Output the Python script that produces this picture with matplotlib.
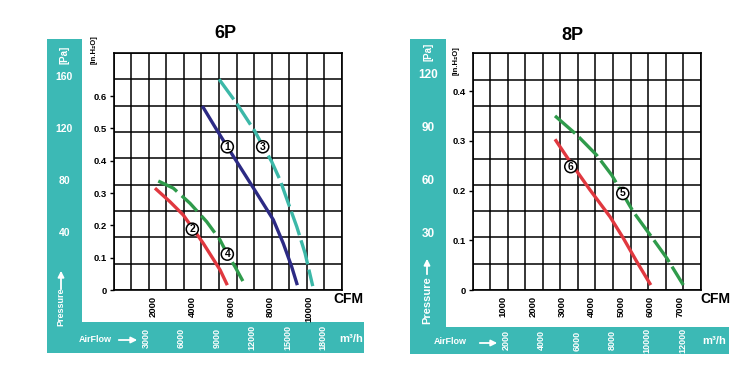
import matplotlib.pyplot as plt

plt.rcParams['font.family'] = ['Liberation Sans Narrow', 'Liberation Sans', 'DejaVu Sans']
plt.rcParams['font.weight'] = 'bold'

# ---- 6P panel data ----
cfm_6p_1 = [4530, 5270, 5810, 6460, 7320, 8170, 8680, 9110, 9400]
p_6p_1 = [0.569, 0.495, 0.443, 0.381, 0.299, 0.217, 0.144, 0.072, 0.015]
cfm_6p_2 = [2100, 2870, 3550, 4070, 4580, 5010, 5440, 5810]
p_6p_2 = [0.315, 0.273, 0.232, 0.188, 0.144, 0.103, 0.062, 0.015]
cfm_6p_3 = [5385, 6290, 7230, 7655, 8085, 8515, 8940, 9370, 9795, 10190]
p_6p_3 = [0.652, 0.577, 0.490, 0.443, 0.397, 0.340, 0.268, 0.196, 0.114, 0.012]
cfm_6p_4 = [2270, 3040, 3900, 4755, 5435, 5810, 6205, 6720]
p_6p_4 = [0.337, 0.315, 0.268, 0.211, 0.155, 0.111, 0.072, 0.015]
lab_6p_x = [5810, 4015, 7625, 5810]
lab_6p_y = [0.443, 0.188, 0.443, 0.111]
lab_6p = ['1', '2', '3', '4']
cfm_ticks_6p = [2000, 4000, 6000, 8000, 10000]
inh2o_ticks_6p = [0, 0.1, 0.2, 0.3, 0.4, 0.5, 0.6]
pa_ticks_6p = [40, 80, 120, 160]
m3h_ticks_6p = [3000, 6000, 9000, 12000, 15000, 18000]

# ---- 8P panel data ----
cfm_8p_5 = [2755, 3490, 4170, 4680, 5415, 5980, 6550, 7110]
p_8p_5 = [0.350, 0.312, 0.271, 0.231, 0.157, 0.111, 0.064, 0.010]
cfm_8p_6 = [2755, 3265, 3945, 4625, 5075, 5530, 6005]
p_8p_6 = [0.303, 0.258, 0.201, 0.147, 0.104, 0.057, 0.010]
lab_8p_x = [5055, 3290]
lab_8p_y = [0.194, 0.248]
lab_8p = ['5', '6']
cfm_ticks_8p = [1000, 2000, 3000, 4000, 5000, 6000, 7000]
inh2o_ticks_8p = [0, 0.1, 0.2, 0.3, 0.4]
pa_ticks_8p = [30, 60, 90, 120]
m3h_ticks_8p = [2000, 4000, 6000, 8000, 10000, 12000]

TEAL = '#3cb9b5'
NAVY = '#2c2a84'
RED = '#e0383f'
GREEN = '#2f9b4b'
CYAN = '#3cb8a8'

W, H = 744, 371
fig = plt.figure(figsize=(W / 100, H / 100), dpi=100)


def rect(x0, y0, x1, y1):
    return [x0 / W, 1 - y1 / H, (x1 - x0) / W, (y1 - y0) / H]


def bare(a):
    a.set_xticks([])
    a.set_yticks([])
    for s in a.spines.values():
        s.set_visible(False)


def draw_panel(vband, hband, plot, xlim, ylim, pa_lim, m3h_lim,
               xt, yt, pat, mt, pa_fs):
    vb = fig.add_axes(rect(*vband))
    vb.set_facecolor(TEAL)
    vb.set_xlim(0, 1)
    vb.set_ylim(pa_lim)
    bare(vb)
    for v in pat:
        vb.text(0.5, v, str(v), color='white', ha='center', va='center',
                fontsize=pa_fs)

    hb = fig.add_axes(rect(*hband))
    hb.set_facecolor(TEAL)
    hb.set_xlim(m3h_lim)
    hb.set_ylim(0, 1)
    bare(hb)
    for v in mt:
        hb.text(v, 0.5, str(v), color='white', ha='center', va='center',
                rotation=90, fontsize=6.5)

    # the 13 x 9 grid is independent of the tick scale
    g = fig.add_axes(rect(*plot))
    g.set_xlim(0, 13)
    g.set_ylim(0, 9)
    g.set_xticks(range(14))
    g.set_yticks(range(10))
    g.tick_params(length=0, labelbottom=False, labelleft=False)
    g.grid(True, color='black', lw=1.1)
    for s in g.spines.values():
        s.set_linewidth(1.2)

    ax = fig.add_axes(rect(*plot))
    ax.set_facecolor('none')
    ax.set_xlim(xlim)
    ax.set_ylim(ylim)
    for s in ax.spines.values():
        s.set_visible(False)
    ax.set_xticks(xt)
    ax.set_xticklabels([str(v) for v in xt], rotation=90, fontsize=6.8)
    ax.set_yticks(yt)
    ax.set_yticklabels(['%g' % v for v in yt], fontsize=6.8)
    ax.tick_params(axis='x', length=0, pad=4)
    ax.tick_params(axis='y', length=3, width=1, pad=2)
    return ax


def circle_labels(ax, xs, ys, texts):
    for x, y, t in zip(xs, ys, texts):
        ax.text(x, y, t, ha='center', va='center', fontsize=7.5, zorder=5,
                bbox=dict(boxstyle='circle,pad=0.1', fc='white', ec='black', lw=1.1))


# left panel (6P)
ax1 = draw_panel((47, 39, 82, 353), (47, 322, 364, 353), (113.5, 53, 342, 290),
                 (-26, 11690), (0, 0.733), (-52.3, 189.2), (-5390, 21475),
                 cfm_ticks_6p, inh2o_ticks_6p, pa_ticks_6p, m3h_ticks_6p, 7.5)
ax1.plot(cfm_6p_1, p_6p_1, color=NAVY, lw=2.4, solid_capstyle='butt')
ax1.plot(cfm_6p_2, p_6p_2, color=RED, lw=2.4, solid_capstyle='butt')
ax1.plot(cfm_6p_3, p_6p_3, color=CYAN, lw=2.4, dashes=(7.5, 1.6))
ax1.plot(cfm_6p_4, p_6p_4, color=GREEN, lw=2.4, dashes=(6.5, 1.9))
circle_labels(ax1, lab_6p_x, lab_6p_y, lab_6p)

# right panel (8P)
ax2 = draw_panel((410, 39, 446, 354), (410, 327, 729, 354), (472.7, 53.3, 700.7, 290),
                 (-39, 7700), (0, 0.4758), (-38.3, 140.5), (-3433, 14620),
                 cfm_ticks_8p, inh2o_ticks_8p, pa_ticks_8p, m3h_ticks_8p, 8.5)
ax2.plot(cfm_8p_6, p_8p_6, color=RED, lw=2.4, solid_capstyle='butt')
ax2.plot(cfm_8p_5, p_8p_5, color=GREEN, lw=2.4, dashes=(8, 1.6))
circle_labels(ax2, lab_8p_x, lab_8p_y, lab_8p)

# decorations in pixel space
ov = fig.add_axes([0, 0, 1, 1])
ov.set_xlim(0, W)
ov.set_ylim(H, 0)
ov.axis('off')
ov.patch.set_alpha(0)

for tx, ty, t in [(225, 33, '6P'), (572, 36, '8P')]:
    ov.text(tx, ty, t, ha='center', va='center', fontsize=13)
for tx, ty in [(94.5, 50), (456, 61)]:
    ov.text(tx, ty, '[in.H\u2082O]', ha='center', va='center', rotation=90, fontsize=5.5)
for tx, ty in [(64, 55), (428, 52)]:
    ov.text(tx, ty, '[Pa]', ha='center', va='center', rotation=90, fontsize=7, color='white')
for tx, ty in [(348, 299), (715, 299)]:
    ov.text(tx, ty, 'CFM', ha='center', va='center', fontsize=10)
for tx, ty, a0, a1 in [(95, 339, 116, 140), (450, 342, 477, 500)]:
    ov.text(tx, ty, 'AirFlow', ha='center', va='center', fontsize=6.5, color='white')
    ov.annotate('', xy=(a1, ty + 1), xytext=(a0, ty + 1),
                arrowprops=dict(arrowstyle='-|>', color='white', lw=1.3, mutation_scale=9))
for tx, ty in [(351, 339), (714, 341)]:
    ov.text(tx, ty, 'm\u00b3/h', ha='center', va='center', fontsize=8, color='white')
for tx, ty, a0, a1, fs in [(61, 307, 292, 268, 6.5), (427, 300, 277, 256, 8)]:
    ov.text(tx, ty, 'Pressure', ha='center', va='center', rotation=90, fontsize=fs, color='white')
    ov.annotate('', xy=(tx, a1), xytext=(tx, a0),
                arrowprops=dict(arrowstyle='-|>', color='white', lw=1.3, mutation_scale=9))

fig.savefig('out.png', dpi=100)
